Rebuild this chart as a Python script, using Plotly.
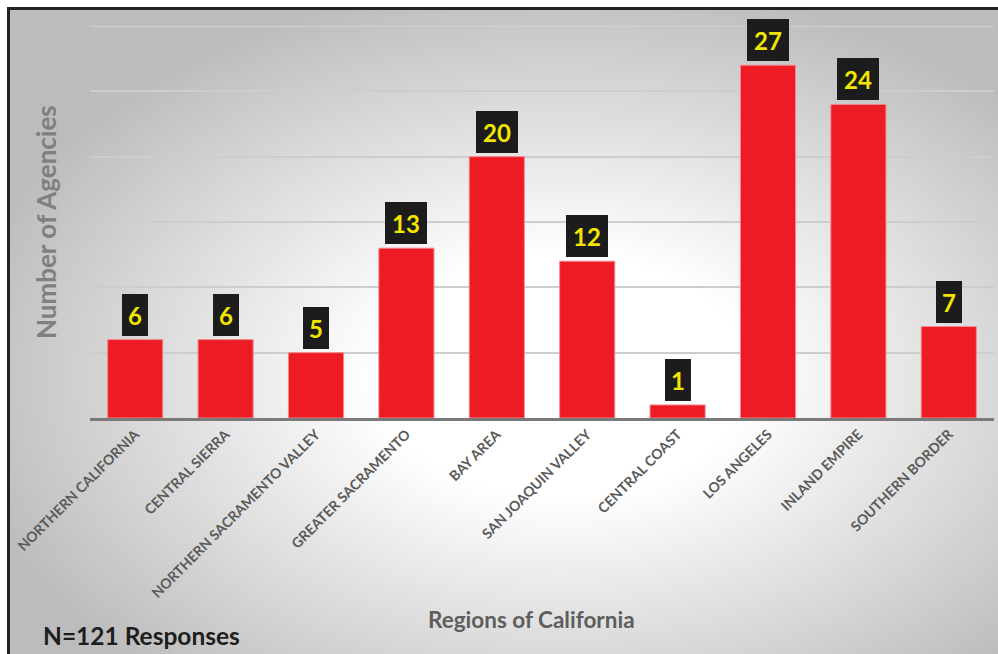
import base64
import plotly.graph_objects as go

# Survey responses by region
regions = [
    "NORTHERN CALIFORNIA", "CENTRAL SIERRA", "NORTHERN SACRAMENTO VALLEY",
    "GREATER SACRAMENTO", "BAY AREA", "SAN JOAQUIN VALLEY", "CENTRAL COAST",
    "LOS ANGELES", "INLAND EMPIRE", "SOUTHERN BORDER",
]
agencies = [6, 6, 5, 13, 20, 12, 1, 27, 24, 7]
total_label = "N=121 Responses"

W, H = 998, 654
ML, MR, MT, MB = 90, 4, 26, 236
PW, PH = W - ML - MR, H - MT - MB


def px_x(p):
    return (p - ML) / PW


def px_y(p):
    return (H - MB - p) / PH


FONT = "Lato, Carlito, 'Open Sans', sans-serif"

# soft radial backdrop
svg = f"""<svg xmlns='http://www.w3.org/2000/svg' width='{W-8}' height='{H-8}' preserveAspectRatio='none'>
<defs><radialGradient id='g' cx='0.56' cy='0.57' r='0.62'>
<stop offset='0' stop-color='#ffffff'/><stop offset='0.3' stop-color='#ffffff'/>
<stop offset='1' stop-color='#bcbcbc'/></radialGradient></defs>
<rect width='100%' height='100%' fill='url(#g)'/></svg>"""
bg_src = "data:image/svg+xml;base64," + base64.b64encode(svg.encode()).decode()

fig = go.Figure(
    go.Bar(
        x=regions,
        y=agencies,
        width=0.61,
        marker=dict(color="#ed1c24", line=dict(color="#f58a8e", width=1)),
        hoverinfo="skip",
    )
)

annotations = []
for r, v in zip(regions, agencies):
    s = str(v)
    annotations.append(dict(
        x=r, y=v, xref="x", yref="y", text=f"<b>{s}</b>", showarrow=False,
        yanchor="bottom", yshift=4, width=14 if len(s) == 1 else 30, height=30,
        bgcolor="#1c1c1c", borderpad=6, borderwidth=0,
        font=dict(family=FONT, size=24, color="#f2e600"),
    ))

annotations += [
    dict(x=px_x(46), y=px_y(222), xref="paper", yref="paper", showarrow=False,
         xanchor="center", yanchor="middle",
         text="<b>Number of Agencies</b>", textangle=-90,
         font=dict(family=FONT, size=26, color="#808080")),
    dict(x=px_x(531), y=px_y(619), xref="paper", yref="paper", showarrow=False,
         xanchor="center", yanchor="middle",
         text="<b>Regions of California</b>",
         font=dict(family=FONT, size=22.5, color="#5e5e5e")),
    dict(x=px_x(41), y=px_y(635), xref="paper", yref="paper", showarrow=False,
         xanchor="left", yanchor="middle", text=f"<b>{total_label}</b>",
         font=dict(family=FONT, size=24.5, color="#1e1e1e")),
]

fig.update_layout(
    width=W, height=H,
    margin=dict(l=ML, r=MR, t=MT, b=MB, autoexpand=False),
    paper_bgcolor="white", plot_bgcolor="rgba(0,0,0,0)",
    showlegend=False, bargap=0.39,
    annotations=annotations,
    images=[dict(source=bg_src, xref="paper", yref="paper",
                 x=px_x(8), y=px_y(8), sizex=(W - 8) / PW, sizey=(H - 8) / PH,
                 xanchor="left", yanchor="top", sizing="stretch", layer="below")],
    shapes=[
        # top gridline at the axis maximum
        dict(type="line", xref="paper", yref="y", x0=0, x1=1, y0=30, y1=30,
             line=dict(color="#d6d6d6", width=1.5), layer="below"),
        dict(type="rect", xref="paper", yref="paper",
             x0=px_x(8.5), y0=px_y(8.5), x1=px_x(1020), y1=px_y(680),
             line=dict(color="#222222", width=3), layer="above"),
    ],
    xaxis=dict(
        tickangle=-45, tickfont=dict(family=FONT, size=14, color="#5a5a5a"),
        tickvals=regions, ticktext=[f"<b>{r}</b>" for r in regions],
        showline=True, linecolor="#7a7a7a", linewidth=2.5, ticks="",
        showgrid=False, fixedrange=True,
    ),
    yaxis=dict(
        range=[0, 30], dtick=5, showticklabels=False, showgrid=True,
        gridcolor="#cdcdcd", gridwidth=1.5, zeroline=False, fixedrange=True,
    ),
)

fig.write_html("out.html")
